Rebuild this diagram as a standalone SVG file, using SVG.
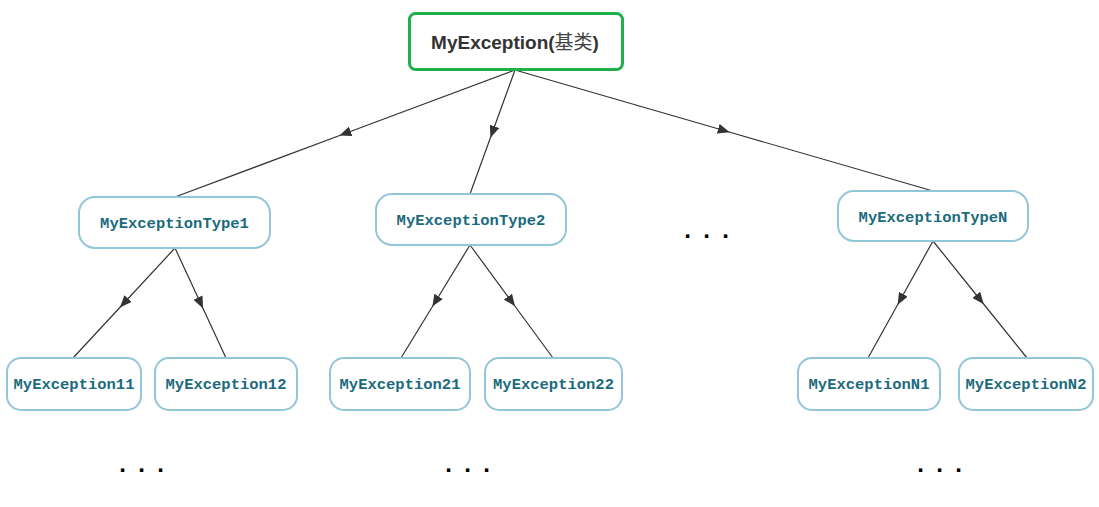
<svg xmlns="http://www.w3.org/2000/svg" width="1099" height="507" viewBox="0 0 1099 507">
<style>
.root{fill:#fff;stroke:#1fb24c;stroke-width:3}
.n{fill:#fff;stroke:#93c6d8;stroke-width:2}
.rt{font-family:"Liberation Sans","Noto Sans CJK SC",sans-serif;font-weight:bold;font-size:19px;fill:#333;text-anchor:middle}
.cj{font-weight:normal;fill:#444}
.t{font-family:"Liberation Mono",monospace;font-weight:bold;font-size:15.5px;fill:#1b6b7d;text-anchor:middle}
.c{fill:none;stroke:#333;stroke-width:1.2;marker-mid:url(#ah)}
.d{font-family:"Liberation Sans",sans-serif;font-weight:bold;font-size:24px;fill:#000;text-anchor:middle;letter-spacing:2.8px}
</style>
<defs>
<marker id="ah" viewBox="0 0 12 10" refX="6" refY="5" markerWidth="12" markerHeight="10" markerUnits="userSpaceOnUse" orient="auto">
<path d="M0,0 L12,5 L0,10 Z" fill="#333"/>
</marker>
</defs>
<rect width="1099" height="507" fill="#fff"/>
<g id="connectors">
<polyline class="c" points="515,70 345,133.5 175,197"/>
<polyline class="c" points="515,70 492.5,132 470,194"/>
<polyline class="c" points="515,70 724,130.5 933,191"/>
<polyline class="c" points="175,248 124,303 73,358"/>
<polyline class="c" points="175,248 200.5,303 226,358"/>
<polyline class="c" points="470,245 435.5,301.5 401,358"/>
<polyline class="c" points="470,245 511.5,301.5 553,358"/>
<polyline class="c" points="933,241 900.5,299.5 868,358"/>
<polyline class="c" points="933,241 980,299.5 1027,358"/>
</g>
<g id="root">
<rect class="root" x="409.5" y="13.5" width="213" height="56" rx="6"/>
<text class="rt" x="515" y="49">MyException(<tspan class="cj">基类</tspan>)</text>
</g>
<g id="type1">
<rect class="n" x="79" y="197" width="191" height="51" rx="16"/>
<text class="t" x="174.5" y="228">MyExceptionType1</text>
</g>
<g id="type2">
<rect class="n" x="376" y="194" width="190" height="51" rx="16"/>
<text class="t" x="471" y="225">MyExceptionType2</text>
</g>
<g id="typeN">
<rect class="n" x="838" y="191" width="190" height="50" rx="16"/>
<text class="t" x="933" y="222">MyExceptionTypeN</text>
</g>
<g id="e11">
<rect class="n" x="7" y="358" width="134" height="52" rx="14"/>
<text class="t" x="74" y="389">MyException11</text>
</g>
<g id="e12">
<rect class="n" x="155" y="358" width="142" height="52" rx="14"/>
<text class="t" x="226" y="389">MyException12</text>
</g>
<g id="e21">
<rect class="n" x="330" y="358" width="140" height="52" rx="14"/>
<text class="t" x="400" y="389">MyException21</text>
</g>
<g id="e22">
<rect class="n" x="485" y="358" width="137" height="52" rx="14"/>
<text class="t" x="553.5" y="389">MyException22</text>
</g>
<g id="eN1">
<rect class="n" x="798" y="358" width="142" height="52" rx="14"/>
<text class="t" x="869" y="389">MyExceptionN1</text>
</g>
<g id="eN2">
<rect class="n" x="959" y="358" width="134" height="52" rx="14"/>
<text class="t" x="1026" y="389">MyExceptionN2</text>
</g>
<g id="dots">
<text class="d" x="708" y="238">. . .</text>
<text class="d" x="143" y="472">. . .</text>
<text class="d" x="469" y="472">. . .</text>
<text class="d" x="941" y="472">. . .</text>
</g>
</svg>
